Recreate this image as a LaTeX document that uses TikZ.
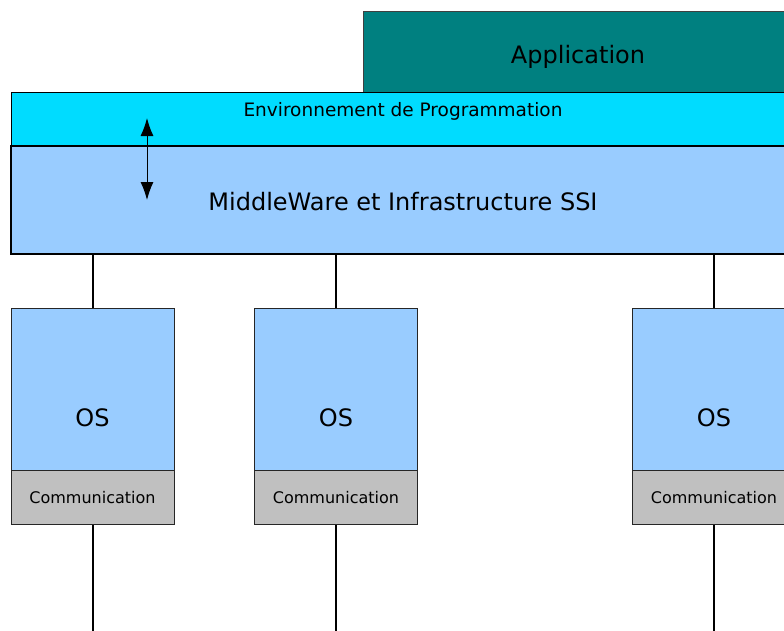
\documentclass[tikz,border=0pt]{standalone}
\usepackage{fontspec}
\setmainfont{DejaVu Sans}
\usetikzlibrary{positioning,arrows.meta}

\definecolor{appteal}{RGB}{0,128,128}
\definecolor{envcyan}{RGB}{0,220,255}
\definecolor{mwblue}{RGB}{153,204,255}
\definecolor{comgray}{RGB}{192,192,192}

\begin{document}
\begin{tikzpicture}[>={Latex[length=18pt,width=13pt]},x=1pt,y=-1pt,
  bigfont/.style={font=\fontsize{24}{29}\selectfont},
  layer/.style={draw,rectangle,minimum width=784pt,inner sep=0pt},
  osbox/.style={draw=black!85,line width=0.8pt,fill=mwblue,minimum width=163pt,minimum height=162pt,inner sep=0pt},
  combox/.style={draw=black!85,line width=0.8pt,fill=comgray,minimum width=163pt,minimum height=54pt,inner sep=0pt,font=\fontsize{16}{19}\selectfont},
  link/.style={line width=2pt}]
\path[use as bounding box,clip] (0,0) rectangle (784,630);

\node[draw=black!75,line width=0.8pt,fill=appteal,minimum width=430pt,minimum height=81pt,inner sep=0pt,
  label={[yshift=-5pt,bigfont]center:Application}] (App) at (578,51.5) {};
\node[layer,line width=0.8pt,fill=envcyan,minimum height=54pt,
  label={[anchor=north,yshift=-7pt,font=\fontsize{18.5}{22}\selectfont]north:Environnement de Programmation}] (Env) at (403,119) {};
\node[layer,line width=1.6pt,fill=mwblue,minimum height=108pt,
  label={[yshift=-2pt,bigfont]center:MiddleWare et Infrastructure SSI}] (MW) at (403,200) {};

% arrow between the two layers
\coordinate (ArrTop) at (147,118);
\coordinate (ArrBot) at (147,200);
\draw[<->,line width=1pt] (ArrTop) -- (ArrBot);

% the nodes
\node[osbox,label={[anchor=center,yshift=53pt,bigfont]south:OS}] (OS1) at (92.5,389) {};
\node[combox,below=0pt of OS1] (C1) {Communication};
\node[osbox,label={[anchor=center,yshift=53pt,bigfont]south:OS}] (OS2) at (336,389) {};
\node[combox,below=0pt of OS2] (C2) {Communication};
\node[osbox,label={[anchor=center,yshift=53pt,bigfont]south:OS}] (OS3) at (714,389) {};
\node[combox,below=0pt of OS3] (C3) {Communication};

\coordinate (B1) at (92.5,640);
\coordinate (B2) at (336,640);
\coordinate (B3) at (714,640);

\draw[link] (MW.south -| OS1.north) -- (OS1.north);
\draw[link] (MW.south -| OS2.north) -- (OS2.north);
\draw[link] (MW.south -| OS3.north) -- (OS3.north);
\draw[link] (C1) -- (B1);
\draw[link] (C2) -- (B2);
\draw[link] (C3) -- (B3);
\end{tikzpicture}
\end{document}
